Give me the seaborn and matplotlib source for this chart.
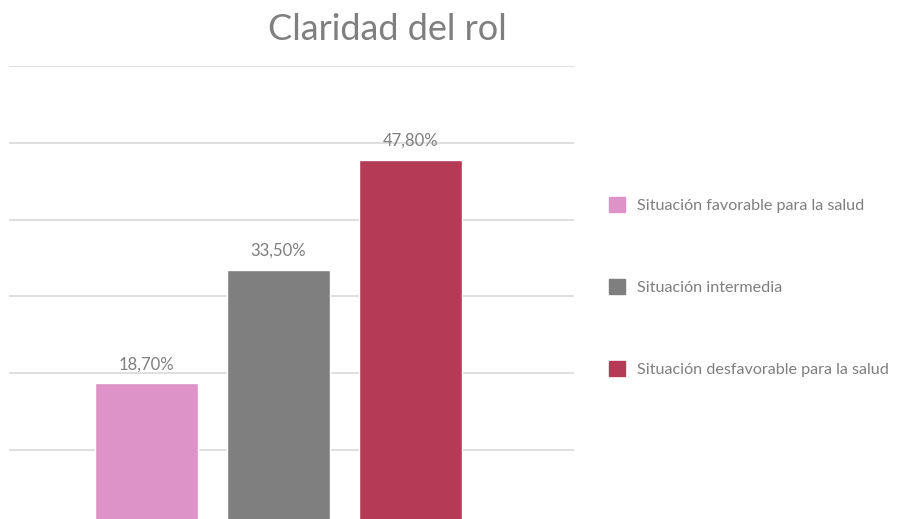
import pandas as pd
import seaborn as sns
import matplotlib.pyplot as plt
from matplotlib.patches import Patch

# data
categorias = ["Situación favorable para la salud", "Situación intermedia",
              "Situación desfavorable para la salud"]
valores = [18.7, 33.5, 47.8]
colores = ["#DD92C8", "#7F7F7F", "#B53A56"]

df = pd.DataFrame({"categoria": categorias, "valor": valores})

sns.set_style("white")
plt.rcParams["font.family"] = ["Lato", "DejaVu Sans"]
gris = "#7F7F7F"

fig = plt.figure(figsize=(8.99, 5.19), dpi=100)
ax = fig.add_axes([9 / 899, 0, 565 / 899, (519 - 66) / 519])

sns.barplot(data=df, x="categoria", y="valor", hue="categoria",
            palette=colores, saturation=1, width=0.78, ax=ax, legend=False, zorder=3)

for cont in ax.containers:
    ax.bar_label(cont, labels=[f"{v:.2f}%".replace(".", ",") for v in cont.datavalues],
                 padding=8, color=gris, fontsize=12)

ax.set_xlim(-1.04, 3.24)
ax.set_ylim(1.04, 60)
ax.set_yticks([10, 20, 30, 40, 50, 60])
ax.yaxis.grid(True, color="#D9D9D9", linewidth=1.2, zorder=0)
ax.set_axisbelow(True)
ax.set_xticks([])
ax.set_yticklabels([])
ax.tick_params(left=False, bottom=False)
ax.set_xlabel("")
ax.set_ylabel("")
for s in ax.spines.values():
    s.set_visible(False)

fig.text(387 / 899, 1 - 30 / 519, "Claridad del rol", ha="center", va="center",
         fontsize=26, color=gris)

handles = [Patch(facecolor=c, edgecolor=c) for c in colores]
fig.legend(handles, categorias, loc="center left", bbox_to_anchor=(594 / 899, 1 - 287 / 519),
           frameon=False, fontsize=11.6, labelcolor=gris, labelspacing=4.1,
           handlelength=1.05, handleheight=1.05, handletextpad=0.7)

fig.savefig("out.png", dpi=100)
